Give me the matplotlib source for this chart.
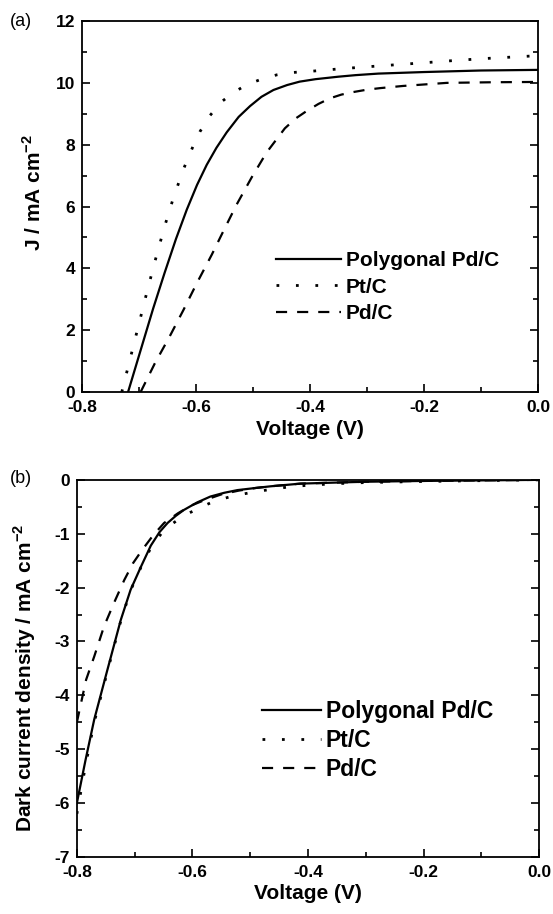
import matplotlib
matplotlib.use('Agg')
import matplotlib.pyplot as plt
from matplotlib.ticker import MultipleLocator

plt.rcParams['font.family'] = ['Liberation Sans', 'DejaVu Sans']
plt.rcParams['mathtext.fontset'] = 'custom'
plt.rcParams['mathtext.rm'] = 'Liberation Sans'
plt.rcParams['mathtext.bf'] = 'Liberation Sans:bold'

# (a) J-V curves
poly_v = [-0.719, -0.697, -0.675, -0.655, -0.635, -0.616, -0.598, -0.581, -0.564, -0.546, -0.525,
          -0.505, -0.485, -0.464, -0.44, -0.418, -0.39, -0.35, -0.32, -0.28, -0.20, -0.10, 0.0]
poly_j = [0.0, 1.35, 2.7, 3.85, 4.95, 5.9, 6.7, 7.35, 7.9, 8.4, 8.9,
          9.25, 9.55, 9.77, 9.93, 10.04, 10.12, 10.2, 10.25, 10.3, 10.35, 10.4, 10.42]

pt_v = [-0.730, -0.715, -0.700, -0.685, -0.670, -0.655, -0.640, -0.622, -0.605, -0.593, -0.575,
        -0.555, -0.533, -0.511, -0.485, -0.458, -0.435, -0.395, -0.35, -0.30, -0.20, -0.149,
        -0.10, 0.0]
pt_j = [0.0, 1.1, 2.2, 3.3, 4.35, 5.35, 6.25, 7.2, 7.95, 8.42, 8.95,
        9.39, 9.7, 9.94, 10.12, 10.26, 10.33, 10.38, 10.45, 10.52, 10.65, 10.72,
        10.78, 10.88]

pd_v = [-0.697, -0.672, -0.646, -0.622, -0.599, -0.572, -0.552, -0.529, -0.502, -0.476,
        -0.444, -0.425, -0.405, -0.385, -0.365, -0.345, -0.325, -0.30, -0.277, -0.237, -0.16,
        -0.08, 0.0]
pd_j = [0.0, 0.93, 1.8, 2.65, 3.5, 4.45, 5.2, 6.05, 6.95, 7.75,
        8.53, 8.85, 9.1, 9.32, 9.5, 9.62, 9.7, 9.78, 9.83, 9.9, 10.0,
        10.02, 10.03]

# (b) dark current
dpoly_v = [-0.80, -0.785, -0.770, -0.747, -0.724, -0.707, -0.689, -0.672, -0.657, -0.643, -0.629,
           -0.615, -0.592, -0.569, -0.545, -0.522, -0.49, -0.465, -0.413, -0.35, -0.30, -0.20,
           -0.10, 0.0]
dpoly_j = [-6.0, -5.2, -4.45, -3.52, -2.60, -2.04, -1.61, -1.22, -0.97, -0.80, -0.67,
           -0.56, -0.42, -0.31, -0.24, -0.19, -0.15, -0.12, -0.07, -0.05, -0.035, -0.02,
           -0.01, 0.0]

dpt_v = [-0.80, -0.785, -0.770, -0.747, -0.724, -0.707, -0.689, -0.670, -0.654, -0.638, -0.625,
         -0.612, -0.586, -0.563, -0.537, -0.511, -0.485, -0.459, -0.436, -0.40, -0.35, -0.30,
         -0.20, -0.10, 0.0]
dpt_j = [-6.2, -5.3, -4.5, -3.55, -2.62, -2.05, -1.62, -1.22, -1.0, -0.84, -0.74,
         -0.65, -0.51, -0.40, -0.32, -0.26, -0.21, -0.17, -0.135, -0.10, -0.07, -0.05,
         -0.03, -0.015, 0.0]

dpd_v = [-0.80, -0.784, -0.770, -0.753, -0.736, -0.718, -0.703, -0.687, -0.668, -0.649, -0.625,
         -0.603, -0.58, -0.55, -0.52, -0.49, -0.465, -0.413, -0.35, -0.30, -0.20, -0.10, 0.0]
dpd_j = [-4.5, -3.71, -3.28, -2.72, -2.29, -1.86, -1.55, -1.30, -1.03, -0.80, -0.62,
         -0.48, -0.38, -0.27, -0.2, -0.15, -0.12, -0.07, -0.05, -0.035, -0.02, -0.01, 0.0]

labels = ['Polygonal Pd/C', 'Pt/C', 'Pd/C']
lw = 1.6
dot = (0, (1, 6))
dash = (0, (5, 4.5))

fig = plt.figure(figsize=(5.53, 9.14), dpi=100)
ax1 = fig.add_axes([0.148, 0.571, 0.825, 0.406])
ax2 = fig.add_axes([0.139, 0.0624, 0.836, 0.4126])

ax1.plot(poly_v, poly_j, color='black', linewidth=lw, linestyle='-', label=labels[0])
ax1.plot(pt_v, pt_j, color='black', linewidth=lw + 0.4, linestyle=dot, label=labels[1])
ax1.plot(pd_v, pd_j, color='black', linewidth=lw, linestyle=dash, label=labels[2])

ax2.plot(dpoly_v, dpoly_j, color='black', linewidth=lw, linestyle='-', label=labels[0])
ax2.plot(dpt_v, dpt_j, color='black', linewidth=lw + 0.4, linestyle=dot, label=labels[1])
ax2.plot(dpd_v, dpd_j, color='black', linewidth=lw, linestyle=dash, label=labels[2])

ax1.set_xlim(-0.8, 0.0)
ax1.set_ylim(0, 12)
ax1.xaxis.set_major_locator(MultipleLocator(0.2))
ax1.xaxis.set_minor_locator(MultipleLocator(0.1))
ax1.yaxis.set_major_locator(MultipleLocator(2))
ax1.yaxis.set_minor_locator(MultipleLocator(1))

ax2.set_xlim(-0.8, 0.0)
ax2.set_ylim(-7, 0)
ax2.xaxis.set_major_locator(MultipleLocator(0.2))
ax2.xaxis.set_minor_locator(MultipleLocator(0.1))
ax2.yaxis.set_major_locator(MultipleLocator(1))
ax2.yaxis.set_minor_locator(MultipleLocator(0.5))

for ax in (ax1, ax2):
    for s in ax.spines.values():
        s.set_linewidth(1.3)
    ax.tick_params(which='both', direction='in', right=True, top=False, width=1.2)
    ax.tick_params(which='major', length=6, labelsize=12.5, pad=5)
    ax.tick_params(which='minor', length=3.5)
    ax.tick_params(axis='x', which='major', pad=6)
    for t in ax.get_xticklabels() + ax.get_yticklabels():
        t.set_fontweight('bold')
    ax.set_xlabel('Voltage (V)', fontsize=15, fontweight='bold', labelpad=3)

ax1.xaxis.set_major_formatter(lambda x, p: '%.1f' % x)
ax2.xaxis.set_major_formatter(lambda x, p: '%.1f' % x)
ax2.yaxis.set_major_formatter(lambda y, p: '%d' % round(y))

ax1.set_ylabel(r'J / mA cm$^{\mathbf{-2}}$', fontsize=15, fontweight='bold')
ax1.yaxis.set_label_coords(-0.081, 0.539)
ax2.set_ylabel(r'Dark current density / mA cm$^{\mathbf{-2}}$', fontsize=15,
               fontweight='bold')
ax2.yaxis.set_label_coords(-0.085, 0.475)

ax1.legend(loc='upper left', bbox_to_anchor=(0.385, 0.43), frameon=False,
           handlelength=3.1, handletextpad=0.25, labelspacing=0.35,
           prop={'weight': 'bold', 'size': 15})
ax2.legend(loc='upper left', bbox_to_anchor=(0.355, 0.472), frameon=False,
           handlelength=2.6, handletextpad=0.2, labelspacing=0.28,
           prop={'weight': 'bold', 'size': 16.5})

fig.text(0.018, 0.977, '(a)', fontsize=13, va='center')
fig.text(0.018, 0.477, '(b)', fontsize=13, va='center')

fig.savefig('out.png', dpi=100)
